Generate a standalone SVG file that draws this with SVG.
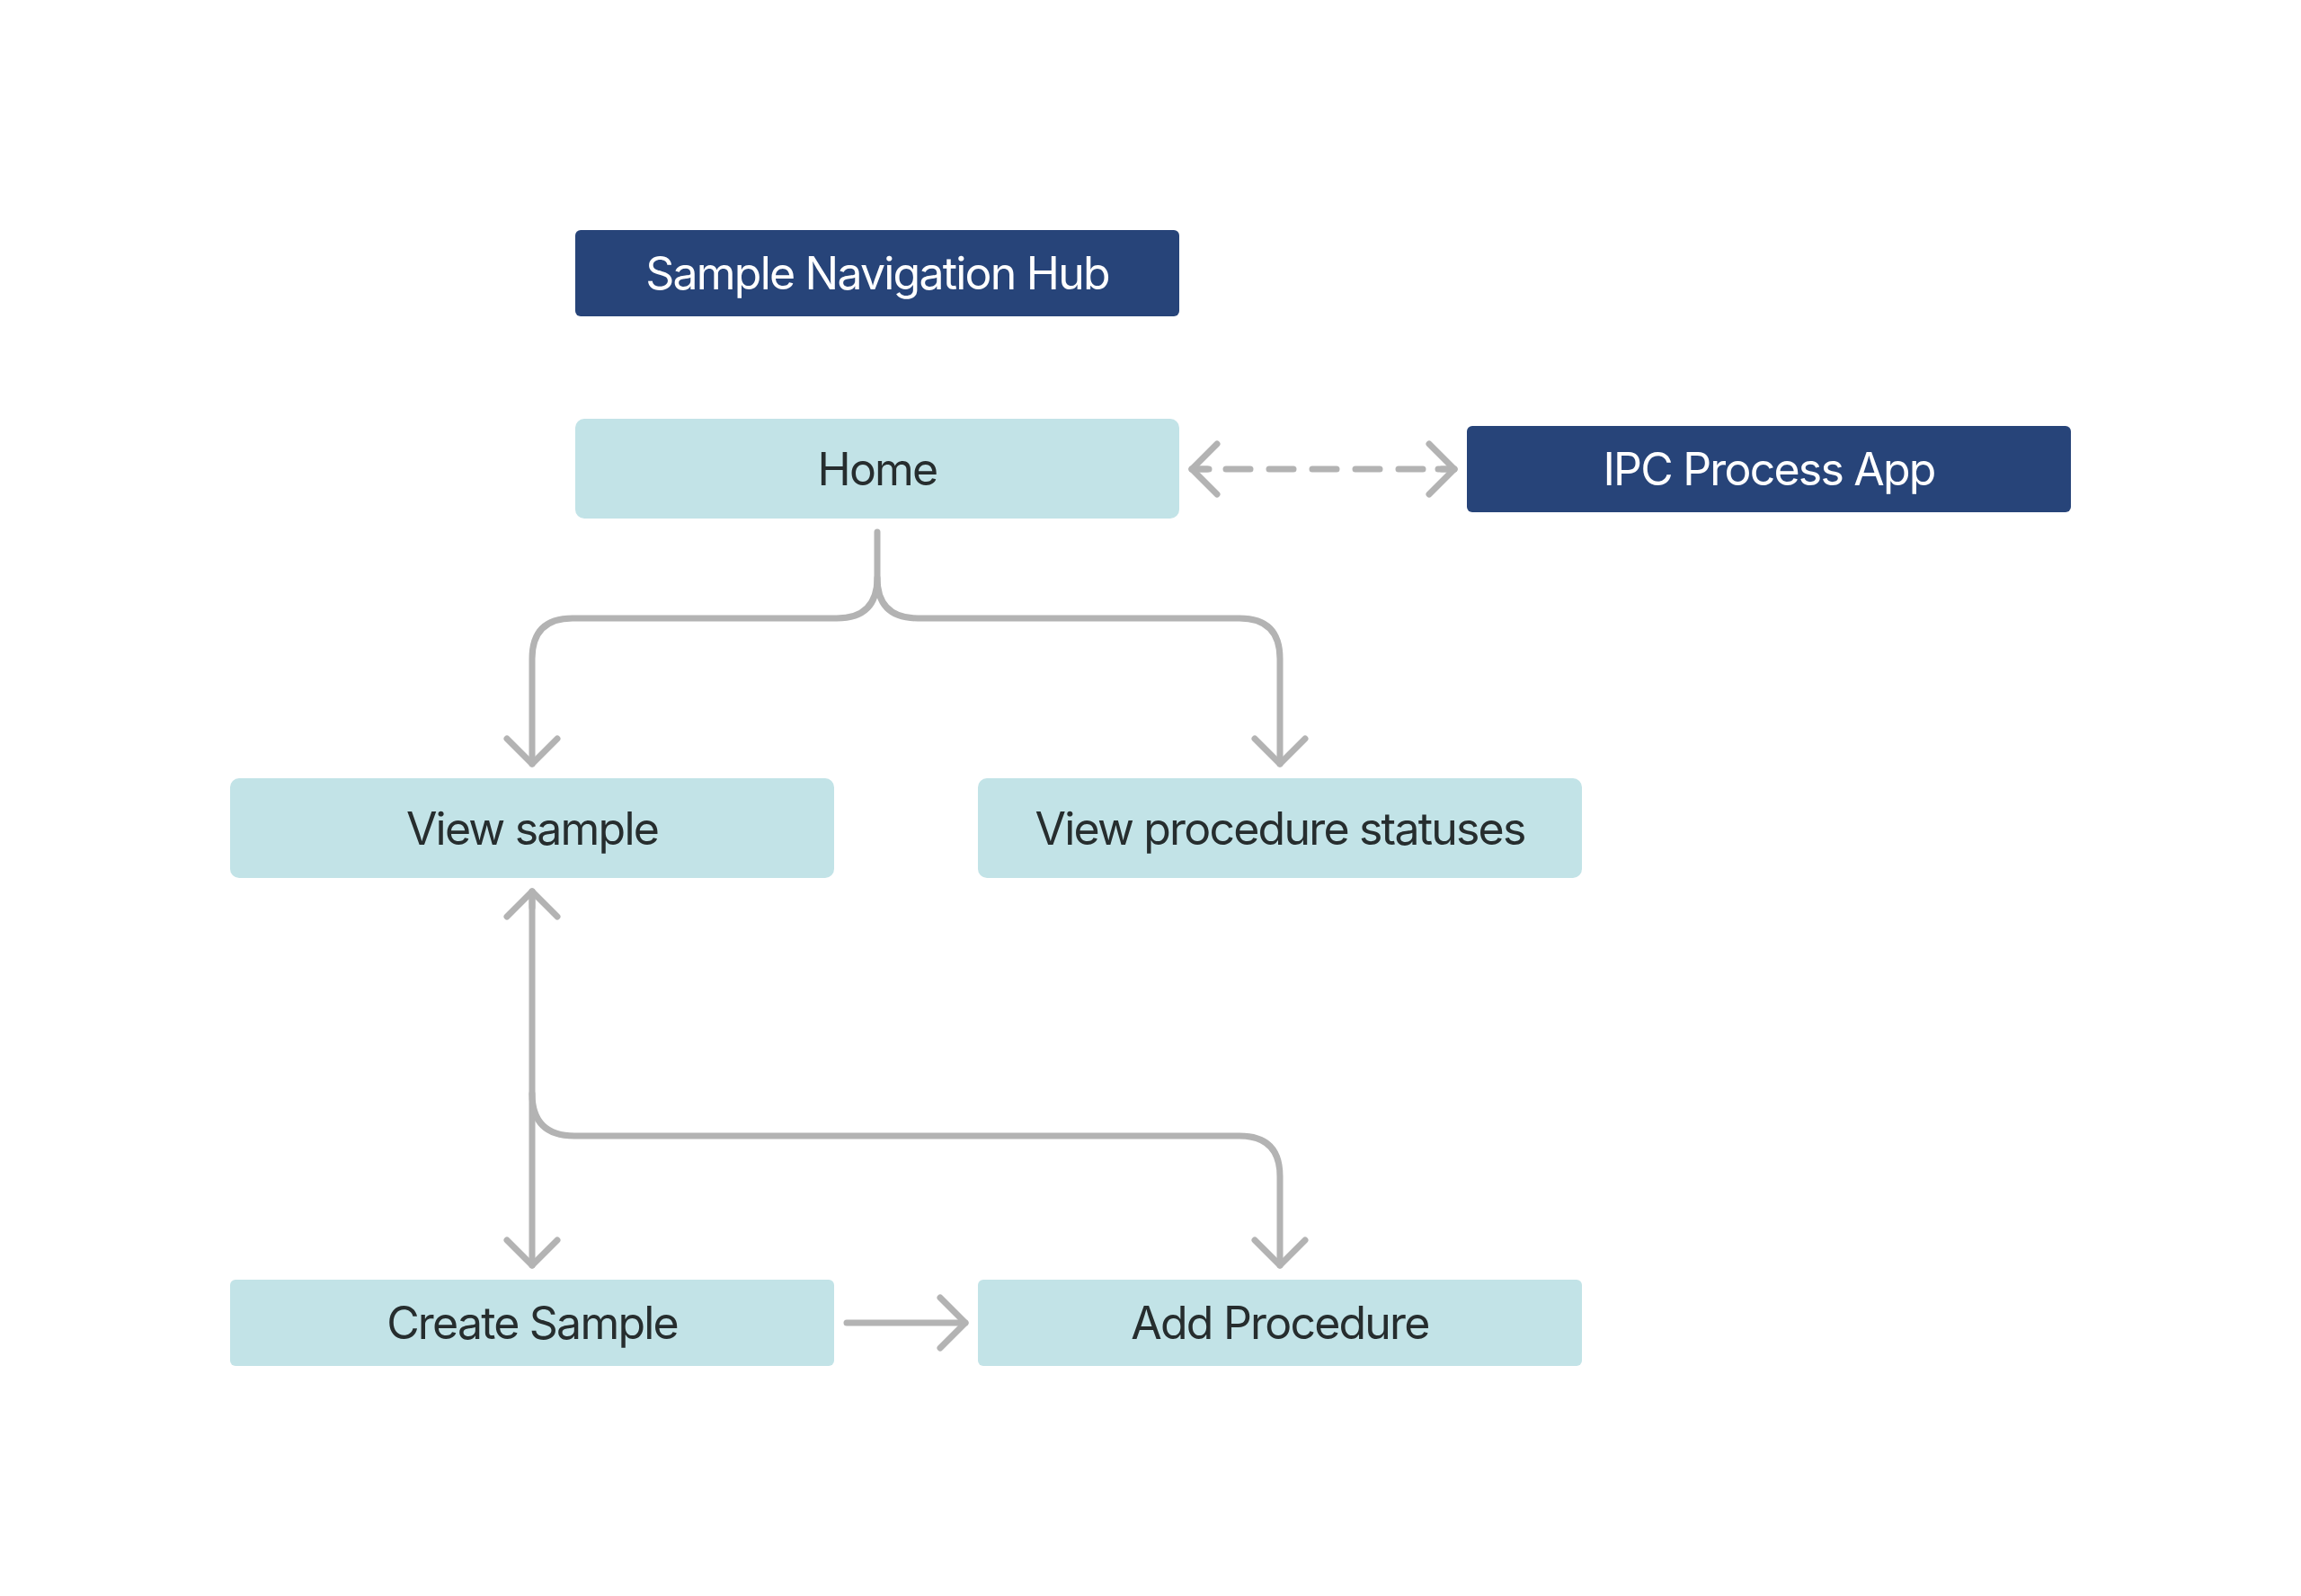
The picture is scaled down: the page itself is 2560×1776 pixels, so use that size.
<svg xmlns="http://www.w3.org/2000/svg" width="2560" height="1776" viewBox="0 0 2560 1776">
<style>
.dark{fill:#274479}
.light{fill:#c2e3e7}
.t{font-family:Inter,"Noto Sans","Liberation Sans",sans-serif;font-size:50px;letter-spacing:-1.8px;text-anchor:middle;dominant-baseline:central}
.tw{fill:#ffffff}
.td{fill:#262d2e}
.c{fill:none;stroke:#b3b3b3;stroke-width:7;stroke-linecap:round;stroke-linejoin:round}
</style>
<defs>
<marker id="ah" viewBox="-40 -40 80 80" markerWidth="80" markerHeight="80" refX="0" refY="0" markerUnits="userSpaceOnUse" orient="auto-start-reverse">
<path d="M-28,-28 L0,0 L-28,28" fill="none" stroke="#b3b3b3" stroke-width="7" stroke-linecap="round" stroke-linejoin="round"/>
</marker>
</defs>
<rect width="2560" height="1776" fill="#ffffff"/>
<g id="connectors">
<path class="c" d="M976,592 L976,643 Q976,688 931,688 L637,688 Q592,688 592,733 L592,850" marker-end="url(#ah)"/>
<path class="c" d="M976,643 Q976,688 1021,688 L1379,688 Q1424,688 1424,733 L1424,850" marker-end="url(#ah)"/>
<path class="c" d="M1326,522 L1618,522" stroke-dasharray="27 21" stroke-dashoffset="10"/>
<path class="c" d="M1345,522 L1326,522" marker-end="url(#ah)"/>
<path class="c" d="M1600,522 L1618,522" marker-end="url(#ah)"/>
<path class="c" d="M592,1010 L592,992" marker-end="url(#ah)"/>
<path class="c" d="M592,992 L592,1408" marker-end="url(#ah)"/>
<path class="c" d="M592,1217 Q592,1264 639,1264 L1379,1264 Q1424,1264 1424,1309 L1424,1408" marker-end="url(#ah)"/>
<path class="c" d="M942,1472 L1074,1472" marker-end="url(#ah)"/>
</g>
<g id="hub"><rect class="dark" x="640" y="256" width="672" height="96" rx="6"/><text class="t tw" x="976" y="304">Sample Navigation Hub</text></g>
<g id="home"><rect class="light" x="640" y="466" width="672" height="111" rx="10"/><text class="t td" x="976" y="522">Home</text></g>
<g id="ipc"><rect class="dark" x="1632" y="474" width="672" height="96" rx="6"/><text class="t tw" x="1968" y="522">IPC Process App</text></g>
<g id="view-sample"><rect class="light" x="256" y="866" width="672" height="111" rx="10"/><text class="t td" x="592" y="922">View sample</text></g>
<g id="view-statuses"><rect class="light" x="1088" y="866" width="672" height="111" rx="10"/><text class="t td" x="1424" y="922">View procedure statuses</text></g>
<g id="create-sample"><rect class="light" x="256" y="1424" width="672" height="96" rx="6"/><text class="t td" x="592" y="1472">Create Sample</text></g>
<g id="add-procedure"><rect class="light" x="1088" y="1424" width="672" height="96" rx="6"/><text class="t td" x="1424" y="1472">Add Procedure</text></g>
</svg>
